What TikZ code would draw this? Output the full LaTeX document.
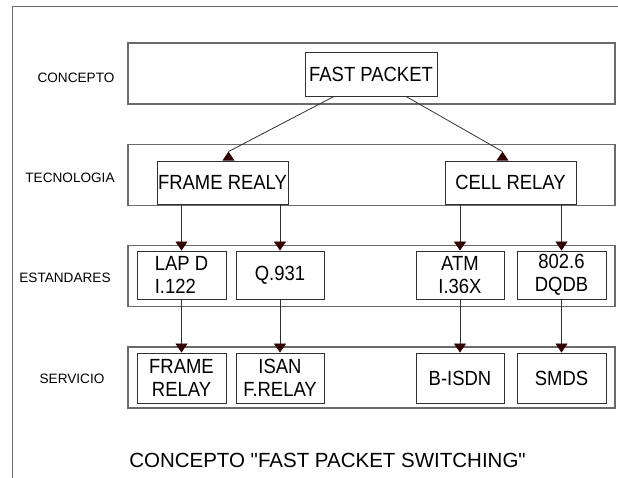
\documentclass[tikz,border=0pt]{standalone}
\usepackage{fontspec}
\setmainfont{Liberation Sans}
\newfontfamily\boxfont{Liberation Sans}[FakeStretch=0.9]
\newfontfamily\capfont{Liberation Sans}
\usetikzlibrary{arrows.meta,calc}
\definecolor{tipred}{HTML}{300000}
\definecolor{bandgray}{HTML}{6A6A6A}
\definecolor{boxgray}{HTML}{303030}
\begin{document}
\begin{tikzpicture}[x=1pt,y=-1pt,
    band/.style={draw=bandgray, line width=1.3pt, minimum width=487pt, minimum height=61pt},
    box/.style={draw=boxgray, line width=0.9pt, inner sep=0pt, align=center,
        font=\boxfont\fontsize{20.5}{23}\selectfont},
    lbl/.style={font=\fontsize{13.6}{15}\selectfont},
    arr/.style={draw=boxgray, line width=0.8pt, -{Triangle[width=12pt,length=9pt,color=tipred]}}]
    \useasboundingbox (0,0) rectangle (618,478);
    \draw[bandgray, line width=1pt] (12,478) -- (12,7) -- (618,7);
    % layers
    \foreach \n/\y/\lx/\ly/\t in {conc/73.5/76/78/CONCEPTO, tec/175/70/178/TECNOLOGIA,
        est/276/65/278/ESTANDARES, serv/377.5/72/379/SERVICIO} {
        \node [band] (b\n) at (371.5, \y) {};
        \node [lbl] (l\n) at (\lx, \ly) {\t};
    }
    \node [box, minimum width=132pt, minimum height=44pt] (fp) at (371, 74) {FAST PACKET};
    \node [box, minimum width=131pt, minimum height=43pt] (fr) at (222.5, 182.5) {FRAME REALY};
    \node [box, minimum width=131pt, minimum height=43pt] (cr) at (510.5, 182.5) {CELL RELAY};
    % estandares
    \node [box, minimum width=89pt, minimum height=48pt, align=left] (lapd) at (181.5, 275) {LAP D\\I.122};
    \node [box, minimum width=88pt, minimum height=48pt] (q931) at (280, 275) {Q.931};
    \node [box, minimum width=88pt, minimum height=48pt] (atm) at (460, 275) {ATM\\I.36X};
    \node [box, minimum width=89pt, minimum height=48pt] (dqdb) at (561.5, 275) {802.6\\DQDB};
    % servicios
    \node [box, minimum width=89pt, minimum height=50pt] (frel) at (181.5, 378) {FRAME\\RELAY};
    \node [box, minimum width=88pt, minimum height=50pt] (isan) at (280, 378) {ISAN\\F.RELAY};
    \node [box, minimum width=88pt, minimum height=50pt] (bisdn) at (460, 378) {B-ISDN};
    \node [box, minimum width=89pt, minimum height=50pt] (smds) at (561.5, 378) {SMDS};
    % flechas
    \coordinate (frtip) at ([xshift=6pt, yshift=9pt]fr.north);
    \coordinate (crtip) at ([xshift=-8pt, yshift=9pt]cr.north);
    \draw [boxgray, line width=0.8pt] ([xshift=-37pt]fp.south) -- (frtip);
    \draw [boxgray, line width=0.8pt] ([xshift=35pt]fp.south) -- (crtip);
    \fill [tipred] (frtip) -- ++(-6, 9) -- ++(12, 0) -- cycle;
    \fill [tipred] (crtip) -- ++(-6, 9) -- ++(12, 0) -- cycle;
    \draw [arr] (lapd.north |- fr.south) -- (lapd.north);
    \draw [arr] (q931.north |- fr.south) -- (q931.north);
    \draw [arr] (atm.north |- cr.south) -- (atm.north);
    \draw [arr] (dqdb.north |- cr.south) -- (dqdb.north);
    \foreach \a/\b in {lapd/frel, q931/isan, atm/bisdn, dqdb/smds} {
        \draw [arr] (\a.south) -- (\b.north);
    }
    \node [font=\capfont\fontsize{20.5}{24}\selectfont] (cap) at (327.5, 460) {CONCEPTO "FAST PACKET SWITCHING"};
\end{tikzpicture}
\end{document}
